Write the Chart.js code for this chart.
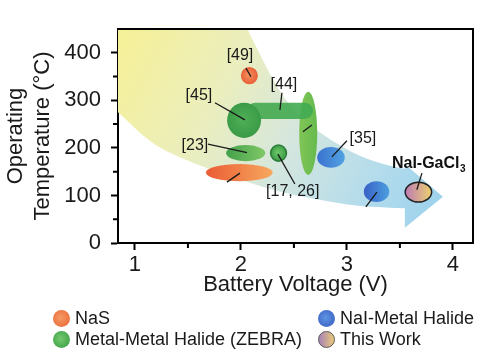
<!DOCTYPE html>
<html><head><meta charset="utf-8">
<script src="https://cdn.jsdelivr.net/npm/chart.js@4.4.0/dist/chart.umd.min.js"></script>
<style>
html,body{margin:0;padding:0;background:#fff;}
#wrap{position:relative;width:500px;height:364px;font-family:"Liberation Sans",Arial,sans-serif;color:#1a1a1a;overflow:hidden;}
#c{position:absolute;left:0;top:0;}
.lg{position:absolute;font-size:18px;line-height:20px;white-space:nowrap;}
.mk{position:absolute;width:17px;height:17px;border-radius:50%;box-sizing:border-box;}
</style></head><body>
<div id="wrap"><canvas id="c" width="500" height="364"></canvas><div id="legend"></div></div>
<script>
// ---------- data ----------
const voltageTicks = [1, 1.5, 2, 2.5, 3, 3.5, 4];
const temperatureTicks = [0, 50, 100, 150, 200, 250, 300, 350, 400];
const xTitle = 'Battery Voltage (V)';
const yTitleLines = ['Operating', 'Temperature (°C)'];

// marks: voltage range and temperature range of each reported system
const markIds   = ['ref49', 'ref44b', 'ref44a', 'ref45', 'ref23', 'ref17', 'nasLow', 'ref35', 'naiLow', 'thisWork'];
const markTypes = ['NaS', 'ZEBRA', 'ZEBRA', 'ZEBRA', 'ZEBRA', 'ZEBRA', 'NaS', 'NaI', 'NaI', 'ThisWork'];
const markVMin  = [2.00, 2.55, 2.06, 1.87, 1.86, 2.28, 1.67, 2.72, 3.16, 3.55];
const markVMax  = [2.16, 2.72, 2.68, 2.19, 2.23, 2.43, 2.30, 2.98, 3.40, 3.80];
const markTMin  = [334, 143, 261, 221, 172, 172, 130, 158, 86, 86];
const markTMax  = [370, 318, 295, 295, 206, 206, 166, 202, 130, 128];

// reference labels (text centre in data units)
const refTexts = ['[49]', '[45]', '[44]', '[23]', '[17, 26]', '[35]'];
const refTextV = [1.991, 1.604, 2.406, 1.566, 2.489, 3.151];
const refTextT = [395, 310, 333, 205, 108, 220];

// leader lines (start/end in data units)
const leadV0 = [2.047, 1.755, 2.387, 1.689, 2.349, 1.868, 2.585, 3.000, 3.179, 3.708];
const leadT0 = [368, 295, 316, 208, 187, 128, 234, 215, 76, 147];
const leadV1 = [2.094, 2.038, 2.368, 2.057, 2.509, 1.991, 2.670, 2.858, 3.283, 3.660];
const leadT1 = [350, 259, 280, 190, 124, 147, 248, 181, 107, 112];

// this-work label
const workLabel = 'NaI-GaCl';
const workSub = '3';
const workLabelV = 3.425;
const workLabelT = 158;

// background trend arrow (edges in data units)
const bandUpperV = [2.0, 2.057, 2.160, 2.274, 2.415, 2.604, 2.840, 3.123, 3.406, 3.547];
const bandUpperT = [490, 450, 406, 354, 301, 255, 217, 181, 162, 156];
const arrowV = [3.547, 3.906, 3.547];
const arrowT = [166, 97, 32];
const bandLowerV = [3.547, 3.170, 2.840, 2.368, 1.991, 1.670, 1.425, 1.142, 0.840, 0.70];
const bandLowerT = [73, 76, 86, 107, 133, 158, 179, 211, 276, 300];
const bandCornerV = [0.70];
const bandCornerT = [490];

// legend
const legendLabels = ['NaS', 'Metal-Metal Halide (ZEBRA)', 'NaI-Metal Halide', 'This Work'];
const legendTypes = ['NaS', 'ZEBRA', 'NaI', 'ThisWork'];

// ---------- styles ----------
const FONT = '"Liberation Sans", Arial, sans-serif';
const markStyle = {
  ref49:   {radial: ['#f5925c', '#e8603a']},
  ref44b:  {lin: ['#80c556', '#66ba4e']},
  ref44a:  {lin: ['#46a84e', '#40ab52'], shape: 'capsule', alpha: 0.9},
  ref45:   {radial: ['#4fb056', '#3a9a47']},
  ref23:   {lin: ['#43a04b', '#80c866']},
  ref17:   {radial: ['#6cc86a', '#3d9d46'], stroke: '#2c7c38', sw: 1.5},
  nasLow:  {lin: ['#eb5c34', '#f6a85e']},
  ref35:   {lin: ['#3a72cf', '#52a3e2']},
  naiLow:  {lin: ['#3960c6', '#4c9fdf']},
  thisWork:{lin: ['#bd7bb5', '#ecd070'], stroke: '#222', sw: 1.5}
};
const legendStyle = {
  NaS: 'background:radial-gradient(circle at 45% 45%, #f59a66, #e8622f);',
  ZEBRA: 'background:radial-gradient(circle at 45% 45%, #74c86c, #339a43);',
  NaI: 'background:radial-gradient(circle at 45% 45%, #5e94e2, #3458bd);',
  ThisWork: 'background:linear-gradient(90deg, #a883b8, #e9c878);border:1.5px solid #555;'
};

// ---------- legend (HTML text) ----------
(function(){
  const lg = document.getElementById('legend');
  const cols = [53, 318], rows = [318, 339];
  legendLabels.forEach((lab, i) => {
    const col = i < 2 ? 0 : 1, row = i % 2;
    const m = document.createElement('div');
    m.className = 'mk';
    m.style.cssText = `left:${cols[col]}px;top:${rows[row]-8.5}px;` + legendStyle[legendTypes[i]];
    lg.appendChild(m);
    const t = document.createElement('div');
    t.className = 'lg';
    t.textContent = lab;
    t.style.left = (cols[col] + 22) + 'px';
    t.style.top = (rows[row] - 10) + 'px';
    lg.appendChild(t);
  });
})();

// ---------- drawing plugin ----------
function smoothTo(ctx, pts) {
  for (let i = 1; i < pts.length - 1; i++) {
    const mx = (pts[i][0] + pts[i+1][0]) / 2, my = (pts[i][1] + pts[i+1][1]) / 2;
    ctx.quadraticCurveTo(pts[i][0], pts[i][1], mx, my);
  }
  const l = pts[pts.length - 1];
  ctx.lineTo(l[0], l[1]);
}

const figurePlugin = {
  id: 'figure',
  beforeDatasetsDraw(chart) {
    const {ctx, chartArea: a, scales: {x, y}} = chart;
    const X = v => x.getPixelForValue(v), Y = t => y.getPixelForValue(t);
    ctx.save();
    ctx.beginPath(); ctx.rect(a.left, a.top, a.right - a.left, a.bottom - a.top); ctx.clip();

    // trend band
    const g = ctx.createLinearGradient(X(0.95), Y(440), X(3.9), Y(90));
    g.addColorStop(0, '#f5f09a');
    g.addColorStop(0.3, '#ebeebd');
    g.addColorStop(0.55, '#d4e6de');
    g.addColorStop(0.8, '#b4dcec');
    g.addColorStop(1, '#9dd2ec');
    ctx.fillStyle = g;
    ctx.beginPath();
    ctx.moveTo(X(bandCornerV[0]), Y(bandCornerT[0]));
    const up = bandUpperV.map((v, i) => [X(v), Y(bandUpperT[i])]);
    ctx.lineTo(up[0][0], up[0][1]);
    smoothTo(ctx, up);
    arrowV.forEach((v, i) => ctx.lineTo(X(v), Y(arrowT[i])));
    const lo = bandLowerV.map((v, i) => [X(v), Y(bandLowerT[i])]);
    ctx.lineTo(lo[0][0], lo[0][1]);
    smoothTo(ctx, lo);
    ctx.closePath();
    ctx.fill();

    // marks
    markIds.forEach((id, i) => {
      const st = markStyle[id];
      const x0 = X(markVMin[i]), x1 = X(markVMax[i]);
      const y0 = Y(markTMax[i]), y1 = Y(markTMin[i]);
      const cx = (x0 + x1) / 2, cy = (y0 + y1) / 2, rx = (x1 - x0) / 2, ry = (y1 - y0) / 2;
      let fill;
      if (st.radial) {
        fill = ctx.createRadialGradient(cx - rx * 0.1, cy - ry * 0.1, 0, cx, cy, Math.max(rx, ry));
        fill.addColorStop(0, st.radial[0]); fill.addColorStop(1, st.radial[1]);
      } else {
        fill = ctx.createLinearGradient(x0, cy, x1, cy);
        fill.addColorStop(0, st.lin[0]); fill.addColorStop(1, st.lin[1]);
      }
      ctx.globalAlpha = st.alpha || 1;
      ctx.fillStyle = fill;
      ctx.beginPath();
      if (st.shape === 'capsule') {
        const r = ry;
        ctx.moveTo(x0 + r, y0); ctx.lineTo(x1 - r, y0);
        ctx.arc(x1 - r, cy, r, -Math.PI / 2, Math.PI / 2);
        ctx.lineTo(x0 + r, y1);
        ctx.arc(x0 + r, cy, r, Math.PI / 2, Math.PI * 1.5);
      } else {
        ctx.ellipse(cx, cy, rx, ry, 0, 0, Math.PI * 2);
      }
      ctx.fill();
      ctx.globalAlpha = 1;
      if (st.stroke) { ctx.strokeStyle = st.stroke; ctx.lineWidth = st.sw; ctx.stroke(); }
    });

    // leader lines
    ctx.strokeStyle = '#1a1a1a'; ctx.lineWidth = 1.3;
    leadV0.forEach((v, i) => {
      ctx.beginPath();
      ctx.moveTo(X(v), Y(leadT0[i])); ctx.lineTo(X(leadV1[i]), Y(leadT1[i]));
      ctx.stroke();
    });

    // reference labels
    ctx.fillStyle = '#1a1a1a';
    ctx.font = '16px ' + FONT;
    ctx.textAlign = 'center'; ctx.textBaseline = 'middle';
    refTexts.forEach((t, i) => ctx.fillText(t, X(refTextV[i]), Y(refTextT[i])));
    ctx.restore();

    // this work label
    ctx.save();
    ctx.fillStyle = '#111';
    ctx.font = 'bold 16px ' + FONT;
    ctx.textAlign = 'left'; ctx.textBaseline = 'alphabetic';
    const lx = X(workLabelV), ly = Y(workLabelT);
    ctx.fillText(workLabel, lx, ly);
    const w = ctx.measureText(workLabel).width;
    ctx.font = 'bold 10px ' + FONT;
    ctx.fillText(workSub, lx + w + 0.5, ly + 4);
    ctx.restore();
  },
  afterDraw(chart) {
    const {ctx, chartArea: a, scales: {x, y}} = chart;
    ctx.save();
    ctx.strokeStyle = '#000'; ctx.lineWidth = 2;
    ctx.beginPath();
    ctx.moveTo(a.left - 1, a.top); ctx.lineTo(a.right, a.top); ctx.lineTo(a.right, a.bottom + 1);
    ctx.stroke();
    // minor ticks
    ctx.beginPath();
    voltageTicks.filter(v => !Number.isInteger(v)).forEach(v => {
      const px = x.getPixelForValue(v); ctx.moveTo(px, a.bottom); ctx.lineTo(px, a.bottom + 5);
    });
    temperatureTicks.filter(t => t % 100 !== 0).forEach(t => {
      const py = y.getPixelForValue(t); ctx.moveTo(a.left, py); ctx.lineTo(a.left - 5, py);
    });
    ctx.stroke();
    ctx.restore();
  }
};

new Chart(document.getElementById('c'), {
  type: 'scatter',
  data: {
    datasets: [{
      data: markIds.map((id, i) => ({x: (markVMin[i] + markVMax[i]) / 2, y: (markTMin[i] + markTMax[i]) / 2})),
      pointRadius: 0, pointHoverRadius: 0
    }]
  },
  options: {
    responsive: false, animation: false, devicePixelRatio: 1,
    layout: {padding: {left: 0, top: 29, right: 27, bottom: 51}},
    plugins: {legend: {display: false}, tooltip: {enabled: false}},
    events: [],
    scales: {
      x: {
        type: 'linear', min: 0.84, max: 4.19,
        afterBuildTicks: s => { s.ticks = voltageTicks.map(v => ({value: v})); },
        afterFit: s => { s.height = 70; },
        ticks: {callback: v => Number.isInteger(v) ? String(v) : '', font: {size: 22, family: FONT}, color: '#1a1a1a', padding: 2, maxRotation: 0, autoSkip: false},
        grid: {drawOnChartArea: false, tickLength: 7, tickWidth: 2, color: c => (c.tick && Number.isInteger(c.tick.value)) ? '#000' : 'rgba(0,0,0,0)'},
        border: {color: '#000', width: 2},
        title: {display: true, text: xTitle, font: {size: 22, family: FONT}, color: '#1a1a1a', padding: {top: 0, bottom: 15}}
      },
      y: {
        type: 'linear', min: 0, max: 450,
        afterBuildTicks: s => { s.ticks = temperatureTicks.map(v => ({value: v})); },
        afterFit: s => { s.width = 118; },
        ticks: {callback: v => (v % 100 === 0) ? String(v) : '', font: {size: 22, family: FONT}, color: '#1a1a1a', padding: 10, autoSkip: false},
        grid: {drawOnChartArea: false, tickLength: 7, tickWidth: 2, color: c => (c.tick && c.tick.value % 100 === 0) ? '#000' : 'rgba(0,0,0,0)'},
        border: {color: '#000', width: 2},
        title: {display: true, text: yTitleLines, font: {size: 22, family: FONT, lineHeight: 1.2}, color: '#1a1a1a', padding: {top: 3, bottom: 0}}
      }
    }
  },
  plugins: [figurePlugin]
});
</script>
</body></html>
